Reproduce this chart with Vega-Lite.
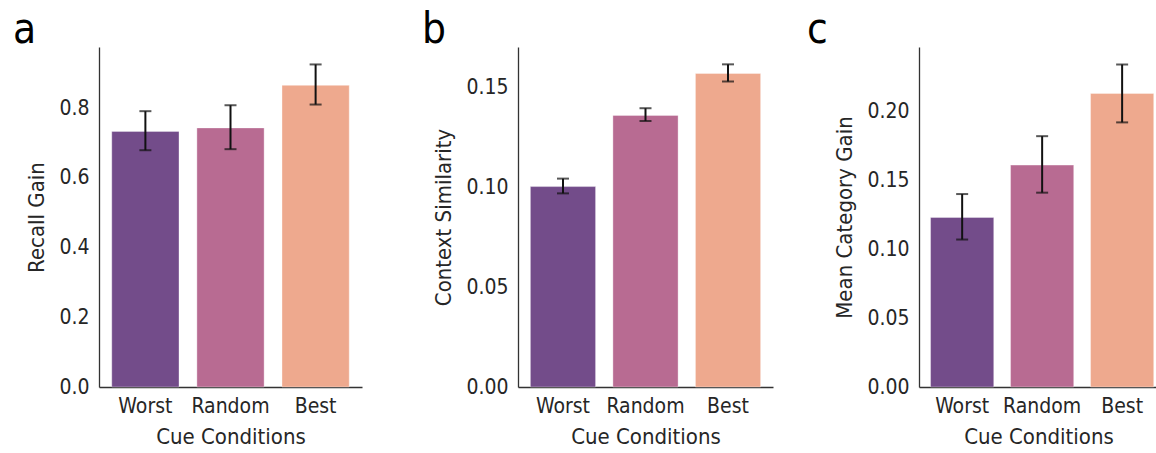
{
  "$schema": "https://vega.github.io/schema/vega-lite/v6.json",
  "padding": {"left": 12, "top": 9, "right": 0, "bottom": 0},
  "background": "white",
  "config": {
    "view": {"stroke": null},
    "font": "DejaVu Sans Condensed, Roboto Condensed, Liberation Sans, sans-serif",
    "axis": {
      "labelFont": "DejaVu Sans Condensed, Roboto Condensed, Liberation Sans, sans-serif",
      "titleFont": "DejaVu Sans Condensed, Roboto Condensed, Liberation Sans, sans-serif",
      "labelFontSize": 21,
      "titleFontSize": 22,
      "labelColor": "#262626",
      "titleColor": "#262626",
      "titleFontWeight": "normal",
      "domainColor": "#333333",
      "domainWidth": 1.3,
      "ticks": false,
      "grid": false,
      "labelPadding": 10
    },
    "axisX": {"labelAngle": 0, "labelPadding": 8, "titlePadding": 10},
    "axisY": {"titlePadding": 10},
    "title": {"font": "DejaVu Sans Condensed, Roboto Condensed, Liberation Sans, sans-serif", "fontSize": 42, "fontWeight": "normal", "anchor": "start", "color": "#000000", "frame": "bounds", "offset": -5}
  },
  "datasets": {
    "a": [
      {"cond": "Worst", "mean": 0.733, "lo": 0.679, "hi": 0.791},
      {"cond": "Random", "mean": 0.743, "lo": 0.682, "hi": 0.808},
      {"cond": "Best", "mean": 0.865, "lo": 0.810, "hi": 0.925}
    ],
    "b": [
      {"cond": "Worst", "mean": 0.1005, "lo": 0.0971, "hi": 0.1045},
      {"cond": "Random", "mean": 0.1362, "lo": 0.1334, "hi": 0.1398},
      {"cond": "Best", "mean": 0.1572, "lo": 0.1532, "hi": 0.1618}
    ],
    "c": [
      {"cond": "Worst", "mean": 0.1230, "lo": 0.1070, "hi": 0.1400},
      {"cond": "Random", "mean": 0.1610, "lo": 0.1410, "hi": 0.1820},
      {"cond": "Best", "mean": 0.2130, "lo": 0.1920, "hi": 0.2340}
    ]
  },
  "spacing": 59,
  "hconcat": [
    {
      "width": 263,
      "height": 340,
      "title": {"text": "a", "dx": -13},
      "data": {"name": "a"},
      "encoding": {
        "x": {"field": "cond", "type": "nominal", "sort": ["Worst", "Random", "Best"], "title": "Cue Conditions",
              "scale": {"paddingInner": 0.21, "paddingOuter": 0.15}}
      },
      "layer": [
        {"mark": {"type": "bar", "stroke": "#ffffff", "strokeOpacity": 0.35, "strokeWidth": 1},
         "encoding": {
           "y": {"field": "mean", "type": "quantitative", "title": "Recall Gain",
                 "scale": {"domain": [0, 0.975], "nice": false, "zero": true},
                 "axis": {"values": [0, 0.2, 0.4, 0.6, 0.8], "format": ".1f"}},
           "color": {"field": "cond", "type": "nominal", "legend": null,
                     "scale": {"domain": ["Worst", "Random", "Best"], "range": ["#734c8a", "#b86b92", "#eea98e"]}}
         }},
        {"mark": {"type": "rule", "color": "#111111", "strokeWidth": 2},
         "encoding": {"y": {"field": "lo", "type": "quantitative", "title": "Recall Gain"}, "y2": {"field": "hi"}}},
        {"mark": {"type": "tick", "color": "#111111", "thickness": 2, "size": 12},
         "encoding": {"y": {"field": "lo", "type": "quantitative", "title": "Recall Gain"}}},
        {"mark": {"type": "tick", "color": "#111111", "thickness": 2, "size": 12},
         "encoding": {"y": {"field": "hi", "type": "quantitative", "title": "Recall Gain"}}}
      ]
    },
    {
      "spacing": 33,
      "hconcat": [
        {
          "width": 255,
          "height": 340,
          "title": {"text": "b", "dx": -11},
          "data": {"name": "b"},
          "encoding": {
            "x": {"field": "cond", "type": "nominal", "sort": ["Worst", "Random", "Best"], "title": "Cue Conditions",
                  "scale": {"paddingInner": 0.21, "paddingOuter": 0.15}}
          },
          "layer": [
            {"mark": {"type": "bar", "stroke": "#ffffff", "strokeOpacity": 0.35, "strokeWidth": 1},
             "encoding": {
               "y": {"field": "mean", "type": "quantitative", "title": "Context Similarity",
                     "scale": {"domain": [0, 0.1705], "nice": false, "zero": true},
                     "axis": {"values": [0, 0.05, 0.1, 0.15], "format": ".2f"}},
               "color": {"field": "cond", "type": "nominal", "legend": null,
                         "scale": {"domain": ["Worst", "Random", "Best"], "range": ["#734c8a", "#b86b92", "#eea98e"]}}
             }},
            {"mark": {"type": "rule", "color": "#111111", "strokeWidth": 2},
             "encoding": {"y": {"field": "lo", "type": "quantitative", "title": "Context Similarity"}, "y2": {"field": "hi"}}},
            {"mark": {"type": "tick", "color": "#111111", "thickness": 2, "size": 12},
             "encoding": {"y": {"field": "lo", "type": "quantitative", "title": "Context Similarity"}}},
            {"mark": {"type": "tick", "color": "#111111", "thickness": 2, "size": 12},
             "encoding": {"y": {"field": "hi", "type": "quantitative", "title": "Context Similarity"}}}
          ]
        },
        {
          "width": 239,
          "height": 340,
          "title": {"text": "c", "dx": -27},
          "data": {"name": "c"},
          "encoding": {
            "x": {"field": "cond", "type": "nominal", "sort": ["Worst", "Random", "Best"], "title": "Cue Conditions",
                  "scale": {"paddingInner": 0.21, "paddingOuter": 0.099, "align": 0.73}}
          },
          "layer": [
            {"mark": {"type": "bar", "stroke": "#ffffff", "strokeOpacity": 0.35, "strokeWidth": 1},
             "encoding": {
               "y": {"field": "mean", "type": "quantitative", "title": "Mean Category Gain",
                     "scale": {"domain": [0, 0.2467], "nice": false, "zero": true},
                     "axis": {"values": [0, 0.05, 0.1, 0.15, 0.2], "format": ".2f"}},
               "color": {"field": "cond", "type": "nominal", "legend": null,
                         "scale": {"domain": ["Worst", "Random", "Best"], "range": ["#734c8a", "#b86b92", "#eea98e"]}}
             }},
            {"mark": {"type": "rule", "color": "#111111", "strokeWidth": 2},
             "encoding": {"y": {"field": "lo", "type": "quantitative", "title": "Mean Category Gain"}, "y2": {"field": "hi"}}},
            {"mark": {"type": "tick", "color": "#111111", "thickness": 2, "size": 12},
             "encoding": {"y": {"field": "lo", "type": "quantitative", "title": "Mean Category Gain"}}},
            {"mark": {"type": "tick", "color": "#111111", "thickness": 2, "size": 12},
             "encoding": {"y": {"field": "hi", "type": "quantitative", "title": "Mean Category Gain"}}}
          ]
        }
      ]
    }
  ]
}
